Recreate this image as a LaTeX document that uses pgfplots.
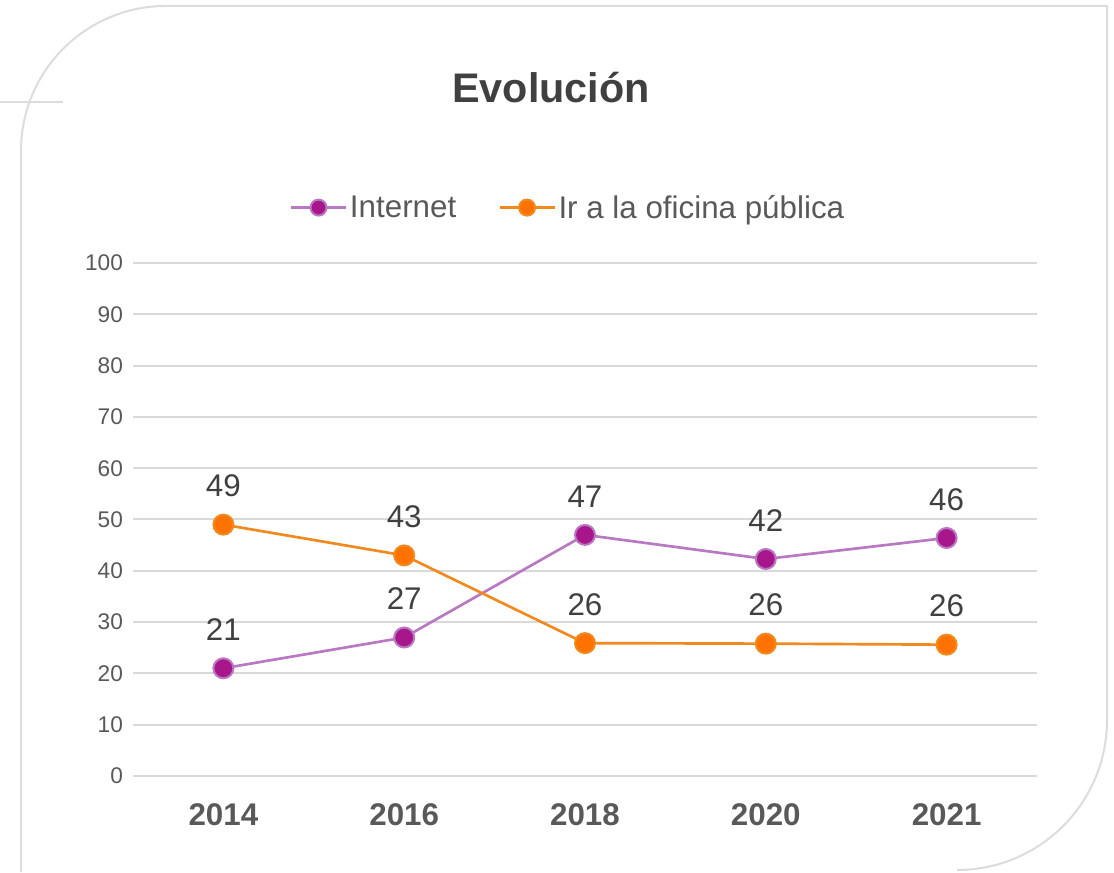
\documentclass[border=0pt]{standalone}
\usepackage{fontspec}
\setmainfont{Liberation Sans}
\usepackage{pgfplots}
\usepackage{pgfplotstable}
\pgfplotsset{compat=1.18}
\definecolor{gridc}{HTML}{D9D9D9}
\definecolor{framec}{HTML}{DCDCDC}
\definecolor{txt}{HTML}{404040}
\definecolor{tick}{HTML}{595959}
\definecolor{intline}{HTML}{B878C2}
\definecolor{intfill}{HTML}{A8168C}
\definecolor{oraline}{HTML}{F08A1E}
\definecolor{orafill}{HTML}{FF7200}
\pgfplotstableread{
x int ilab ora olab
0 21.0 21 49.0 49
1 27.0 27 43.0 43
2 47.0 47 25.9 26
3 42.3 42 25.8 26
4 46.4 46 25.6 26
}\datatable
\begin{document}
\begin{tikzpicture}
\path[use as bounding box] (0pt,0pt) rectangle (835.5pt,654pt);
% decorative frame
\draw[framec, line width=1.5pt] (15.75pt,0pt) -- (15.75pt,540.75pt) arc[start angle=180, end angle=90, radius=108.75pt] -- (830.25pt,649.5pt) -- (830.25pt,114pt) arc[start angle=0, end angle=-90, radius=112.5pt];
\draw[framec, line width=1.5pt] (0pt,577.5pt) -- (47.25pt,577.5pt);
\node[text=txt, font=\fontsize{31}{37}\selectfont\bfseries] at (413.25pt,588pt) {Evolución};
\begin{axis}[
  at={(99.75pt,72pt)}, anchor=south west,
  scale only axis, width=678pt, height=384.75pt,
  xmin=-0.5, xmax=4.5, ymin=0, ymax=100,
  ytick={0,10,...,100},
  xtick={0,1,2,3,4},
  xticklabels={2014,2016,2018,2020,2021},
  major tick length=0pt,
  axis line style={draw=none},
  ymajorgrids, grid style={gridc, line width=1.5pt},
  /pgf/number format/assume math mode=true,
  yticklabel style={font=\fontsize{17}{20}\selectfont, text=tick, xshift=-4pt},
  xticklabel style={font=\fontsize{23.5}{28}\selectfont\bfseries, text=tick, yshift=-17pt},
  clip=false,
  legend columns=2,
  legend style={draw=none, fill=none, at={(axis description cs:0.4815,1.108)}, anchor=center,
    font=\fontsize{23.5}{28}\selectfont, text=tick,
    /tikz/every even column/.append style={column sep=29.5pt}},
  legend image code/.code={\draw[mark repeat=2,mark phase=2, mark size=6pt] plot coordinates {(0pt,0pt)(20.6pt,0pt)(41.2pt,0pt)};},
  nodes near coords,
  point meta=explicit symbolic,
  every node near coord/.append style={anchor=center, yshift=29pt, font=\fontsize{23.5}{28}\selectfont, text=txt},
]
\addplot[intline, line width=2pt, mark=*, mark size=7.5pt, mark options={fill=intfill, draw=intline, line width=1.5pt}]
  table[x=x, y=int, meta=ilab] {\datatable};
\addlegendentry{Internet}
\addplot[oraline, line width=2pt, mark=*, mark size=7.5pt, mark options={fill=orafill, draw=oraline, line width=1.5pt}]
  table[x=x, y=ora, meta=olab] {\datatable};
\addlegendentry{Ir a la oficina pública}
\end{axis}
\end{tikzpicture}
\end{document}
